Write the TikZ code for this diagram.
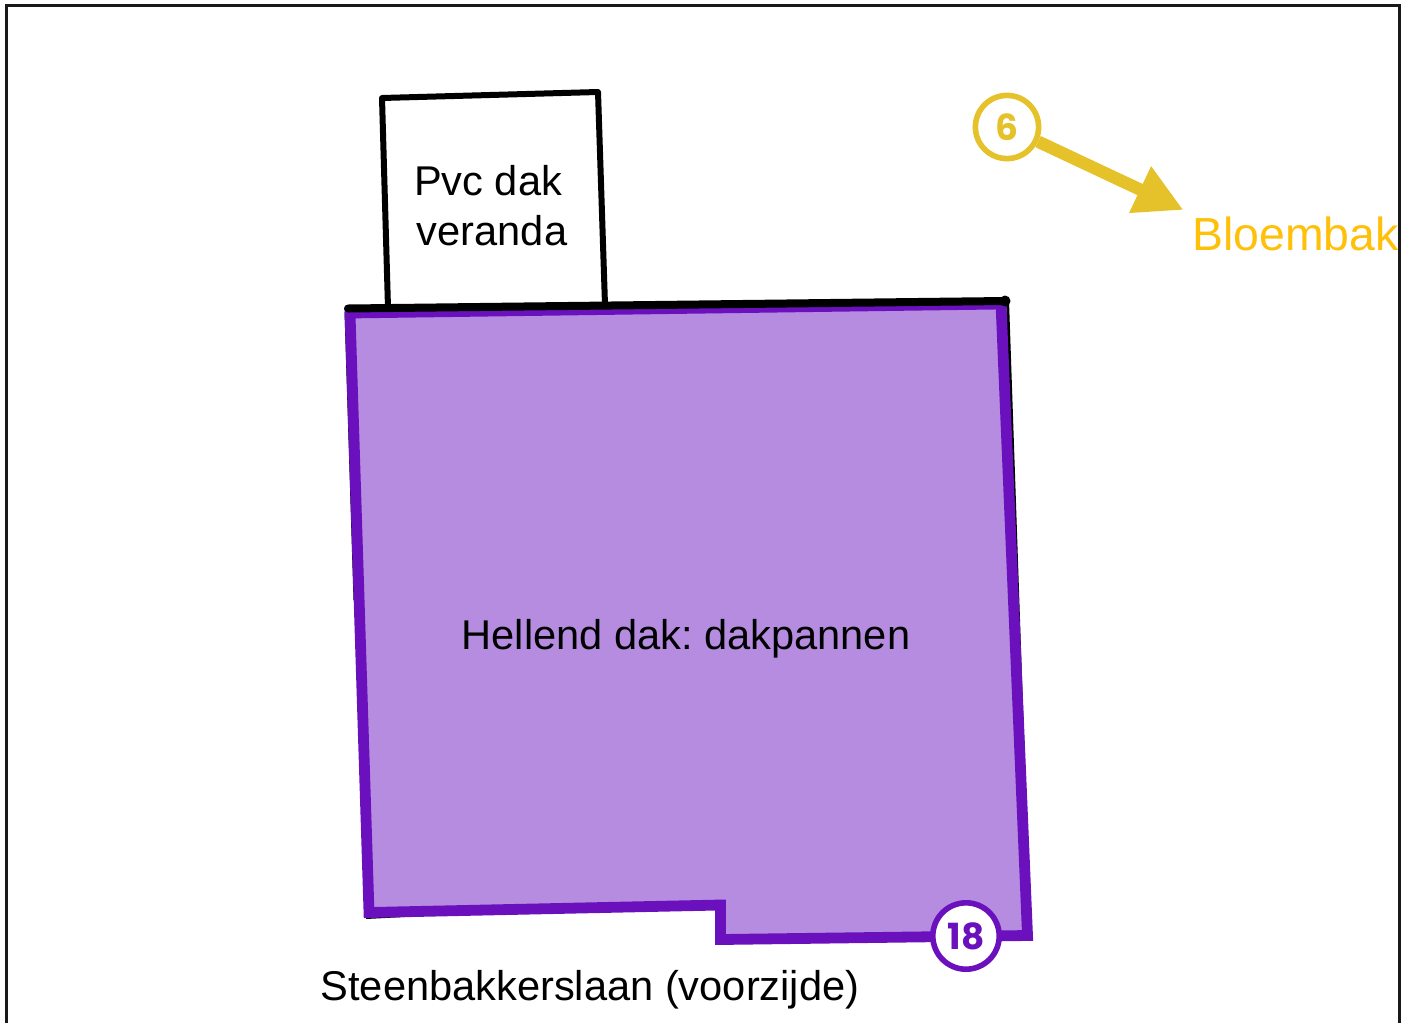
\documentclass[tikz,border=0pt]{standalone}
\usepackage{fontspec}
\setmainfont{Liberation Sans}
\newfontfamily\badgefont{Poppins}
\usepackage{xcolor}
\usetikzlibrary{arrows.meta,positioning}
\definecolor{roofpurple}{RGB}{106,17,189}
\definecolor{rooffill}{RGB}{181,140,224}
\definecolor{planteryellow}{RGB}{229,194,41}
\definecolor{labelyellow}{RGB}{255,192,10}

\begin{document}
\frenchspacing
\begin{tikzpicture}[
    x=0.5pt, y=-0.5pt,
    frameline/.style={draw=black!90, line width=1.5pt},
    wall/.style={draw=black, line width=3pt, line join=round},
    edge/.style={draw=black, line width=1.5pt},
    roof/.style={draw=roofpurple, fill=rooffill, line width=5.4pt, line join=miter},
    label/.style={font=\fontsize{20.8}{25}\selectfont, align=center, text=black, inner sep=0pt},
    badge/.style={
        circle, fill=white, line width=2.8pt, inner sep=0pt,
        font=\badgefont\bfseries\fontsize{18}{18}\selectfont
    },
    pointer/.style={-{Triangle[length=24pt,width=24pt]}, line width=6.2pt, draw=planteryellow}
]
\useasboundingbox (0,0) rectangle (1411,1023);

% frame, open at the bottom
\draw[frameline] (6,1023) -- (6,5) -- (1399,5) -- (1399,1023);

% veranda
\draw[wall, fill=white] (388,308) -- (382,98) -- (598,92) -- (605,305);
\node[label] (veranda) at (492,206) {Pvc dak\hspace*{4pt}\\veranda};

% thin black edge under the roof
\draw[edge] (1007.5,301) -- (1023,750);
\draw[edge] (346,312) -- (355,600);
\draw[edge] (366,917.5) -- (722,899);

% sloped roof
\draw[roof] (350,313) -- (1001,304) -- (1027.5,935.5) -- (720.5,939.5) -- (720.5,905) -- (369,912.5) -- cycle;
\draw[draw=black, line width=4pt, line cap=round] (348,308.5) -- (1005,301);
\fill[black] (1005,301) circle (5.5);
\node[label, anchor=base] (roofname) at (686,649) {Hellend dak: dakpannen};

% street
\node[label, anchor=base] (street) at (590,1000) {Steenbakkerslaan (voorzijde)};

% planter box with pointer
\node[badge, draw=planteryellow, text=planteryellow, minimum size=31.6pt] (six) at (1007,127) {6};
\coordinate (planter) at (1183.5,210);
\draw[pointer] (six) -- (planter);
\node[label, text=labelyellow, anchor=base west, font=\fontsize{23.2}{25}\selectfont] (bloembak) at (1192,250) {Bloembak};

% count of the roof
\node[badge, draw=roofpurple, text=roofpurple, minimum size=33.2pt] (eighteen) at (966,936) {18};

\end{tikzpicture}
\end{document}
